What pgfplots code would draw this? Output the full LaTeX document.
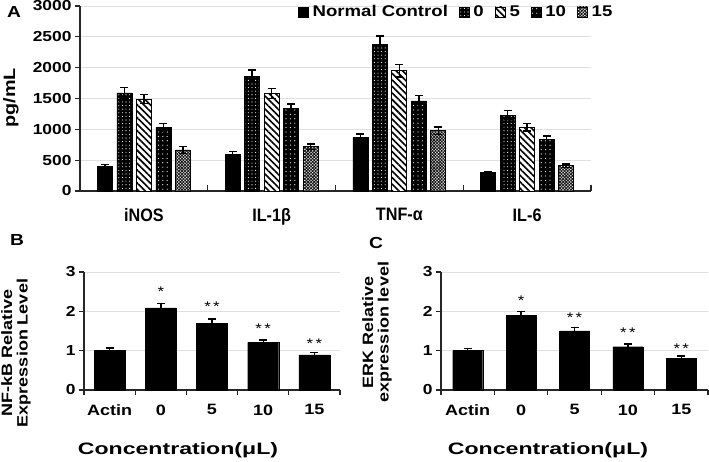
\documentclass[border=0pt]{standalone}
\usepackage{fontspec}
\setmainfont{Liberation Sans}[FakeStretch=1.2]
\newfontfamily\narrowf{Liberation Sans}[FakeStretch=0.9]
\newfontfamily\widef{Liberation Sans}[FakeStretch=1.4]
\usepackage{pgfplots}
\pgfplotsset{compat=1.18}
\usetikzlibrary{patterns,patterns.meta}

\tikzset{
  pzero/.style={fill=black, draw=black, postaction={pattern={Dots[distance=3.6pt,radius=0.55pt]}, pattern color=white}},
  pfive/.style={fill=white, draw=black, line width=0.8pt, postaction={pattern={Lines[angle=-45,distance=4.6pt,line width=1.6pt]}, pattern color=black}},
  pten/.style={fill=black, draw=black, postaction={pattern={Dots[distance=4.4pt,radius=0.6pt]}, pattern color=white}},
  pfift/.style={fill=white, draw=black, line width=0.8pt, postaction={pattern={Hatch[angle=45,distance=2.2pt,line width=0.9pt]}, pattern color=black!90}},
  star/.style={font=\fontsize{14}{14}\selectfont, anchor=base, yshift=-8pt},
}

\pgfplotsset{
  base/.style={
    scale only axis, anchor=south west,
    axis lines*=left,
    axis line style={line width=1.3pt, black!85},
    ymajorgrids, grid style={black!12, line width=0.8pt},
    tick style={black!85, line width=1.2pt},
    tick align=outside, major tick length=5pt,
    /pgf/number format/assume math mode=true,
    /pgf/number format/1000 sep={},
    tick label style={font=\fontsize{14.5}{14.5}\selectfont\bfseries},
    clip=false,
  },
  ebars/.style={
    error bars/.cd, y dir=both, y explicit,
    error bar style={line width=1.4pt, black},
    error mark options={rotate=90, line width=1.4pt, mark size=4pt, black},
  },
}

\begin{document}
\begin{tikzpicture}
\path[use as bounding box] (0pt,0pt) rectangle (709pt,462pt);

% ---------- panel A ----------
\begin{axis}[base,
  at={(80pt,271pt)}, width=511pt, height=185pt,
  xmin=0, xmax=4, ymin=0, ymax=3000,
  ytick={0,500,...,3000},
  xtick={0.5,1.5,2.5,3.5},
  xticklabels={iNOS, IL-1β, TNF-α, IL-6},
  x tick style={draw=none},
  xticklabel style={font=\fontsize{18}{18}\narrowf\bfseries, yshift=-9pt},
  ybar=4.5pt, bar width=15pt,
  legend style={at={(0.4266,0.968)}, anchor=west, draw=none, fill=none,
    legend columns=5, inner sep=0pt,
    font=\fontsize{15.5}{15.5}\selectfont\bfseries,
    /tikz/every odd column/.append style={column sep=2pt},
    /tikz/every even column/.append style={column sep=9pt}},
  legend image code/.code={\draw[#1] (0pt,-5pt) rectangle (10pt,5pt);},
]
\addplot[fill=black, draw=black, ebars] coordinates {
  (0.5,395) +- (0,35) (1.5,595) +- (0,45) (2.5,870) +- (0,55) (3.5,300) +- (0,20)};
\addlegendentry{Normal Control}
\addplot[pzero, ebars] coordinates {
  (0.5,1590) +- (0,90) (1.5,1860) +- (0,100) (2.5,2380) +- (0,135) (3.5,1230) +- (0,75)};
\addlegendentry{0}
\addplot[pfive, ebars] coordinates {
  (0.5,1490) +- (0,70) (1.5,1580) +- (0,80) (2.5,1950) +- (0,100) (3.5,1035) +- (0,60)};
\addlegendentry{5}
\addplot[pten, ebars] coordinates {
  (0.5,1030) +- (0,65) (1.5,1340) +- (0,70) (2.5,1460) +- (0,90) (3.5,840) +- (0,50)};
\addlegendentry{10}
\addplot[pfift, ebars] coordinates {
  (0.5,665) +- (0,55) (1.5,720) +- (0,45) (2.5,980) +- (0,60) (3.5,410) +- (0,25)};
\addlegendentry{15}
% group dividers on the x axis
\draw[black!85, line width=1.2pt] (axis cs:1,0) -- ++(0pt,6pt);
\draw[black!85, line width=1.2pt] (axis cs:2,0) -- ++(0pt,6pt);
\draw[black!85, line width=1.2pt] (axis cs:3,0) -- ++(0pt,6pt);
\draw[black!85, line width=1.2pt] (axis cs:4,0) -- ++(0pt,6pt);
\end{axis}

% ---------- panel B ----------
\begin{axis}[base,
  at={(84pt,72pt)}, width=256pt, height=118pt,
  xmin=0, xmax=5, ymin=0, ymax=3,
  ytick={0,1,2,3},
  xtick={0.5,1.5,2.5,3.5,4.5},
  xticklabels={Actin,0,5,10,15},
  major x tick style={draw=none},
  minor xtick={0,1,2,3,4,5},
  minor tick length=5pt,
  xticklabel style={font=\fontsize{15}{15}\selectfont\bfseries, yshift=-6pt},
  ybar, bar width=31pt,
]
\addplot[fill=black, draw=black, ebars] coordinates {
  (0.5,1.01) +- (0,0.06) (1.5,2.09) +- (0,0.11) (2.5,1.70) +- (0,0.10)
  (3.5,1.21) +- (0,0.06) (4.5,0.89) +- (0,0.07)};
\node[star] at (axis cs:1.5,2.57) {*};
\node[star] at (axis cs:2.5,2.19) {*\,*};
\node[star] at (axis cs:3.5,1.63) {*\,*};
\node[star] at (axis cs:4.5,1.25) {*\,*};
\end{axis}

% ---------- panel C ----------
\begin{axis}[base,
  at={(441pt,72pt)}, width=267pt, height=118pt,
  xmin=0, xmax=5, ymin=0, ymax=3,
  ytick={0,1,2,3},
  xtick={0.5,1.5,2.5,3.5,4.5},
  xticklabels={Actin,0,5,10,15},
  major x tick style={draw=none},
  minor xtick={0,1,2,3,4,5},
  minor tick length=5pt,
  xticklabel style={font=\fontsize{15}{15}\selectfont\bfseries, yshift=-6pt},
  ybar, bar width=30pt,
]
\addplot[fill=black, draw=black, ebars] coordinates {
  (0.5,1.00) +- (0,0.06) (1.5,1.89) +- (0,0.11) (2.5,1.50) +- (0,0.09)
  (3.5,1.10) +- (0,0.07) (4.5,0.81) +- (0,0.05)};
\node[star] at (axis cs:1.5,2.34) {*};
\node[star] at (axis cs:2.5,1.93) {*\,*};
\node[star] at (axis cs:3.5,1.53) {*\,*};
\node[star] at (axis cs:4.5,1.12) {*\,*};
\end{axis}

% ---------- labels ----------
\node[font=\fontsize{16}{16}\selectfont\bfseries] at (14pt,450pt) {A};
\node[font=\fontsize{16}{16}\selectfont\bfseries] at (17pt,222pt) {B};
\node[font=\fontsize{16}{16}\selectfont\bfseries] at (376pt,219pt) {C};
\node[font=\fontsize{16.5}{16.5}\selectfont\bfseries, rotate=90] at (11pt,364pt) {pg/mL};
\node[font=\fontsize{15}{15.5}\selectfont\bfseries, rotate=90, align=center] at (16pt,109pt)
  {NF-kB Relative\\Expression Level};
\node[font=\fontsize{15}{15.5}\selectfont\bfseries, rotate=90, align=center] at (377pt,130pt)
  {ERK Relative\\expression level};
\node[font=\fontsize{16.5}{16.5}\widef\bfseries] at (178pt,12pt) {Concentration(μL)};
\node[font=\fontsize{16.5}{16.5}\widef\bfseries] at (548pt,12pt) {Concentration(μL)};
\end{tikzpicture}
\end{document}
